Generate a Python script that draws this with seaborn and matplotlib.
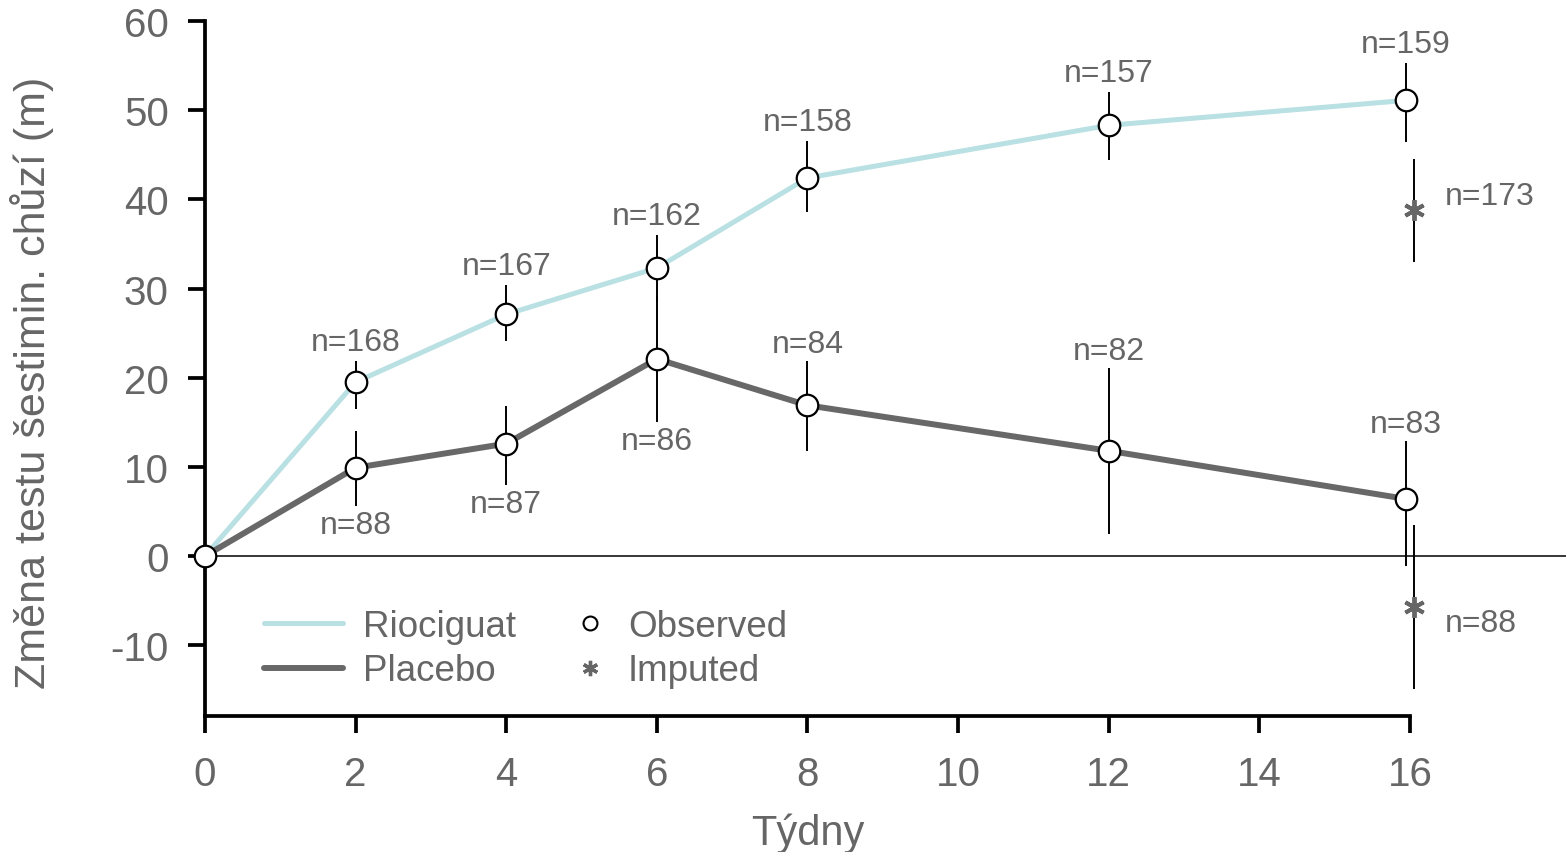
import matplotlib
matplotlib.use("Agg")
import matplotlib.pyplot as plt
from matplotlib.lines import Line2D
import numpy as np
import pandas as pd
import seaborn as sns

# ---------------- data ----------------
weeks = [0, 2, 4, 6, 8, 12, 16]
rio_mean = [0, 19.5, 27.1, 32.3, 42.4, 48.3, 51.1]
rio_lo = [0, 16.5, 24.1, 28.6, 38.6, 44.4, 46.4]
rio_hi = [0, 21.9, 30.4, 36.0, 46.5, 52.0, 55.3]
rio_n = [None, 168, 167, 162, 158, 157, 159]

pla_mean = [0, 9.9, 12.6, 22.1, 16.9, 11.8, 6.4]
pla_lo = [0, 5.6, 8.0, 15.0, 11.8, 2.5, -1.1]
pla_hi = [0, 14.0, 16.8, 29.2, 21.9, 21.1, 12.9]
pla_n = [None, 88, 87, 86, 84, 82, 83]

imp_week = 16
rio_imp_mean, rio_imp_lo, rio_imp_hi, rio_imp_n = 38.8, 33.0, 44.5, 173
pla_imp_mean, pla_imp_lo, pla_imp_hi, pla_imp_n = -5.7, -14.9, 3.5, 88

groups = ["Riociguat", "Placebo"]
yticks = [-10, 0, 10, 20, 30, 40, 50, 60]
xticks = [0, 2, 4, 6, 8, 10, 12, 14, 16]
xlabel = "Týdny"
ylabel = "Změna testu šestimin. chůzí (m)"
legend_obs = "Observed"
legend_imp = "Imputed"

# ---------------- style ----------------
RIO_C = "#b9e0e3"
PLA_C = "#686868"
TXT_C = "#666666"
label_side_pla = ["below", "below", "below", "above", "above", "above"]
obs_dodge = -0.05
imp_dodge = 0.06
NFS = 23

sns.set_theme(style="ticks")
plt.rcParams["font.family"] = ["Liberation Sans", "DejaVu Sans"]

fig = plt.figure(figsize=(15.66, 8.53), dpi=100)
W, H = 1566, 853
ax = fig.add_axes([205 / W, 1 - 717 / H, (W - 205) / W, (717 - 22) / H])

def xpos(ws):
    return [w + (obs_dodge if w == 16 else 0) for w in ws]

df = pd.DataFrame({
    "week": xpos(weeks) * 2,
    "value": rio_mean + pla_mean,
    "group": [groups[0]] * len(weeks) + [groups[1]] * len(weeks),
})

sns.lineplot(data=df[df.group == groups[0]], x="week", y="value", color=RIO_C,
             lw=3.6, ax=ax, legend=False, zorder=2, clip_on=False)
sns.lineplot(data=df[df.group == groups[1]], x="week", y="value", color=PLA_C,
             lw=4.3, ax=ax, legend=False, zorder=2, clip_on=False)

ax.axhline(0, color="black", lw=1.1, zorder=1)

# error bars
xs = xpos(weeks)
ax.vlines(xs[1:], rio_lo[1:], rio_hi[1:], color="black", lw=1.4, zorder=3)
ax.vlines(xs[1:], pla_lo[1:], pla_hi[1:], color="black", lw=1.4, zorder=3)
ax.vlines([imp_week + imp_dodge] * 2, [rio_imp_lo, pla_imp_lo], [rio_imp_hi, pla_imp_hi],
          color="black", lw=1.4, zorder=3)

# observed circles
obs = pd.DataFrame({"week": xs + xs[1:], "value": rio_mean + pla_mean[1:]})
sns.scatterplot(data=obs, x="week", y="value", marker="o", s=15.5 ** 2, color="white",
                edgecolor="black", linewidth=1.6, ax=ax, zorder=5, clip_on=False, legend=False)

# imputed asterisks
imp = pd.DataFrame({"week": [imp_week + imp_dodge] * 2, "value": [rio_imp_mean, pla_imp_mean]})
ax.plot(imp["week"], imp["value"], ls="none", marker=(6, 2, 0), ms=15, mew=2.8,
        color=TXT_C, zorder=5)

# n labels
off = 19 * 72 / 100
for i in range(1, len(weeks)):
    ax.annotate(f"n={rio_n[i]}", (xs[i], rio_hi[i]), xytext=(0, off), textcoords="offset points",
                ha="center", va="center", fontsize=NFS, color=TXT_C)
    if label_side_pla[i - 1] == "below":
        ax.annotate(f"n={pla_n[i]}", (xs[i], pla_lo[i]), xytext=(0, -off), textcoords="offset points",
                    ha="center", va="center", fontsize=NFS, color=TXT_C)
    else:
        ax.annotate(f"n={pla_n[i]}", (xs[i], pla_hi[i]), xytext=(0, off * 0.9), textcoords="offset points",
                    ha="center", va="center", fontsize=NFS, color=TXT_C)
ax.annotate(f"n={rio_imp_n}", (imp_week + imp_dodge, rio_imp_mean), xytext=(22, 10),
            textcoords="offset points", ha="left", va="center", fontsize=NFS, color=TXT_C)
ax.annotate(f"n={pla_imp_n}", (imp_week + imp_dodge, pla_imp_mean), xytext=(22, -12),
            textcoords="offset points", ha="left", va="center", fontsize=NFS, color=TXT_C)

# axes
ax.set_xlim(0, (W - 205) / 75.31)
ax.set_ylim((557 - 717) / 8.917, 60)
ax.set_xticks(xticks)
ax.set_yticks(yticks)
ax.set_xticklabels([str(t) for t in xticks])
ax.set_yticklabels([str(t) for t in yticks])
ax.spines["top"].set_visible(False)
ax.spines["right"].set_visible(False)
ax.spines["bottom"].set_bounds(0, 16)
for s in ("left", "bottom"):
    ax.spines[s].set_linewidth(2.7)
    ax.spines[s].set_color("black")
ax.tick_params(axis="both", length=12, width=2.7, color="black", labelsize=29, labelcolor=TXT_C)
ax.tick_params(axis="y", pad=14)
ax.tick_params(axis="x", pad=16)
ax.set_xlabel(xlabel, fontsize=30, color=TXT_C, labelpad=14)
ax.xaxis.label.set_x((808 - 205) / (W - 205))
ax.set_ylabel(ylabel, fontsize=31, color=TXT_C, labelpad=41)
ax.yaxis.label.set_y((717 - 383) / 695)
ax.patch.set_alpha(0)

# legends
leg_y = (717 - 649.5) / 695
h1 = [Line2D([], [], color=RIO_C, lw=3.6), Line2D([], [], color=PLA_C, lw=4.3)]
leg1 = ax.legend(h1, groups, loc="center left", bbox_to_anchor=((264 - 205) / (W - 205), leg_y),
                 frameon=False, fontsize=26.5, handlelength=2.15, handletextpad=0.55,
                 labelspacing=0.27, borderpad=0, borderaxespad=0, labelcolor=TXT_C)
ax.add_artist(leg1)
h2 = [Line2D([], [], ls="none", marker="o", ms=10, mfc="white", mec="black", mew=1.5),
      Line2D([], [], ls="none", marker=(6, 2, 0), ms=11, mew=2.4, color=TXT_C)]
leg2 = ax.legend(h2, [legend_obs, legend_imp], loc="center left",
                 bbox_to_anchor=((573 - 205) / (W - 205), leg_y),
                 frameon=False, fontsize=26.5, handlelength=0.94, handletextpad=0.55,
                 labelspacing=0.27, borderpad=0, borderaxespad=0, labelcolor=TXT_C)

fig.savefig("out.png", dpi=100)
